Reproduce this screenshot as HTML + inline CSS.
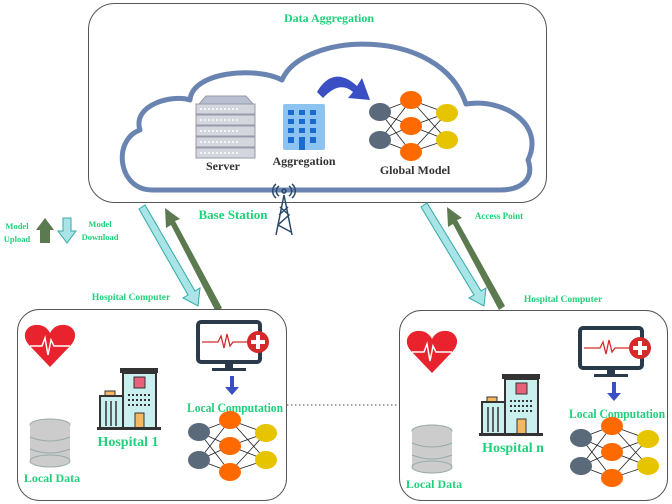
<!DOCTYPE html>
<html><head><meta charset="utf-8"><style>
html,body{margin:0;padding:0;background:#fff;}
svg{display:block;}
text{font-family:"Liberation Serif",serif;font-weight:bold;}
.g{fill:#1fd17a;}
.k{fill:#333;}
</style></head><body>
<svg width="672" height="504" viewBox="0 0 672 504" xmlns="http://www.w3.org/2000/svg">
<defs>
<g id="net">
 <g stroke="#222" stroke-width="0.8">
  <line x1="0" y1="0" x2="31" y2="-12"/><line x1="0" y1="0" x2="31" y2="14"/><line x1="0" y1="0" x2="31" y2="40"/>
  <line x1="0" y1="28" x2="31" y2="-12"/><line x1="0" y1="28" x2="31" y2="14"/><line x1="0" y1="28" x2="31" y2="40"/>
  <line x1="31" y1="-12" x2="67" y2="1"/><line x1="31" y1="-12" x2="67" y2="28"/>
  <line x1="31" y1="14" x2="67" y2="1"/><line x1="31" y1="14" x2="67" y2="28"/>
  <line x1="31" y1="40" x2="67" y2="1"/><line x1="31" y1="40" x2="67" y2="28"/>
 </g>
 <ellipse cx="0" cy="0" rx="11" ry="9" fill="#5a6a7a"/><ellipse cx="0" cy="28" rx="11" ry="9" fill="#5a6a7a"/>
 <ellipse cx="31" cy="-12" rx="11" ry="9" fill="#ff6a00"/><ellipse cx="31" cy="14" rx="11" ry="9" fill="#ff6a00"/><ellipse cx="31" cy="40" rx="11" ry="9" fill="#ff6a00"/>
 <ellipse cx="67" cy="1" rx="11" ry="9" fill="#e6c400"/><ellipse cx="67" cy="28" rx="11" ry="9" fill="#e6c400"/>
</g>
<g id="hosp">
 <path d="M50,367 L29,345 C20,335 27,324 38,325 C44,325 48,329 50,333 C52,329 56,325 62,325 C73,324 80,335 71,345 Z" fill="#e8232e"/>
 <polyline points="30,346 42,346 45,338 48,355 51,340 54,346 70,346" fill="none" stroke="#fff" stroke-width="1.5"/>
 <ellipse cx="50" cy="425" rx="20" ry="6" fill="#ccc" stroke="#9aa" />
 <rect x="30" y="425" width="40" height="36" fill="#ccc"/>
 <ellipse cx="50" cy="461" rx="20" ry="6" fill="#ccc" stroke="#9aa"/>
 <path d="M30,437 Q50,445 70,437 M30,449 Q50,457 70,449" fill="none" stroke="#9aa"/>
 <text x="52" y="482" class="g" font-size="12" text-anchor="middle">Local Data</text>
 <rect x="120" y="368" width="38" height="5" fill="#333"/>
 <rect x="123" y="373" width="33" height="55" fill="#c9f0ef" stroke="#333" stroke-width="2"/>
 <rect x="134" y="377" width="11" height="11" fill="#e8607a" stroke="#333"/>
 <rect x="105" y="391" width="10" height="5" fill="#f4b860" stroke="#333"/>
 <rect x="100" y="396" width="23" height="32" fill="#c9f0ef" stroke="#333" stroke-width="2"/>
 <path d="M106,401 V426 M111,401 V426 M116,401 V426" stroke="#333" stroke-width="1.5"/>
 <rect x="135" y="413" width="9" height="15" fill="#f4b860" stroke="#333"/>
 <path d="M128,395 H152 M128,400 H152 M128,405 H152" stroke="#333" stroke-width="2" stroke-dasharray="2 2"/>
 <rect x="97" y="427" width="64" height="3" fill="#333"/>
 <text x="128" y="446" class="g" font-size="14" text-anchor="middle">Hospital 1</text>
 <rect x="198" y="322" width="62" height="40" rx="3" fill="#fff" stroke="#2b3a4a" stroke-width="4"/>
 <rect x="225" y="362" width="8" height="6" fill="#2b3a4a"/><rect x="212" y="368" width="34" height="3" fill="#2b3a4a"/>
 <polyline points="202,342 218,342 221,336 224,348 227,334 230,346 233,342 250,342" fill="none" stroke="#d42a2a" stroke-width="1.3"/>
 <circle cx="258" cy="342" r="11" fill="#d42a2a"/><path d="M258,335 V349 M251,342 H265" stroke="#fff" stroke-width="4"/>
 <path d="M230,376 V387 H225 L232,395 L239,387 H234 V376 Z" fill="#3b4fc4"/>
 <text x="235" y="412" class="g" font-size="12.5" text-anchor="middle" textLength="96" lengthAdjust="spacingAndGlyphs">Local Computation</text>
 <use href="#net" x="199" y="432"/>
</g>
</defs>

<rect x="88.5" y="3.5" width="458" height="199" rx="26" fill="#fff" stroke="#555" stroke-width="1"/>
<text x="329" y="22" class="g" font-size="12" text-anchor="middle">Data Aggregation</text>
<path d="M152,190 C118,190 112,140 140,130 C132,105 172,94 190,100 C192,72 255,66 282,80 C302,32 440,25 466,104 C505,98 545,125 528,160 C535,180 520,190 500,190 Z" fill="#fff" stroke="#6a84b2" stroke-width="5" stroke-linejoin="round"/>
<polygon points="199,104 206,96 246,96 253,104" fill="#b8bfd0" stroke="#99a"/>
<g fill="#d4d6de" stroke="#99a">
<rect x="196" y="104" width="59" height="10"/><rect x="196" y="115" width="59" height="10"/><rect x="196" y="126" width="59" height="10"/><rect x="196" y="137" width="59" height="10"/><rect x="196" y="148" width="59" height="10"/>
</g>
<g stroke="#fff" stroke-width="1.5" stroke-dasharray="2 2"><path d="M200,109 H240 M200,120 H240 M200,131 H240 M200,142 H240 M200,153 H240"/></g>
<text x="223" y="170" class="k" font-size="12" text-anchor="middle">Server</text>
<rect x="283" y="104" width="42" height="46" rx="2" fill="#8cc3f0"/>
<g fill="#1a6bcf"><rect x="288" y="110" width="6" height="5"/><rect x="299" y="110" width="6" height="5"/><rect x="310" y="110" width="6" height="5"/>
<rect x="288" y="119" width="6" height="5"/><rect x="299" y="119" width="6" height="5"/><rect x="310" y="119" width="6" height="5"/>
<rect x="288" y="128" width="6" height="5"/><rect x="299" y="128" width="6" height="5"/><rect x="310" y="128" width="6" height="5"/>
<rect x="288" y="137" width="6" height="6"/><rect x="299" y="137" width="6" height="13"/><rect x="310" y="137" width="6" height="6"/></g>
<text x="304" y="165" class="k" font-size="12" text-anchor="middle">Aggregation</text>
<path d="M317,92 C330,70 345,75 357,86 L362,78 L370,100 L348,98 L353,92 C344,84 334,86 323,98 Z" fill="#3b4fc4"/>
<use href="#net" x="380" y="112"/>
<text x="415" y="174" class="k" font-size="12" text-anchor="middle">Global Model</text>
<g stroke="#2b4a6a" stroke-width="1.5" fill="none">
<path d="M284,195 L276,235 M284,195 L292,235 M280,207 L289,215 L278,225 L291,232 M288,207 L279,215"/>
<path d="M279,186 a6,6 0 0 0 0,10 M289,186 a6,6 0 0 1 0,10 M276,184 a9,9 0 0 0 0,14 M292,184 a9,9 0 0 1 0,14"/>
<circle cx="284" cy="191" r="2"/>
</g>
<text x="233" y="219" class="g" font-size="13" text-anchor="middle">Base Station</text>
<text x="499" y="219" class="g" font-size="9" text-anchor="middle">Access Point</text>

<text x="17" y="229" class="g" font-size="8.5" text-anchor="middle">Model</text>
<text x="17" y="242" class="g" font-size="8.5" text-anchor="middle">Upload</text>
<path d="M40,243 V230 H36 L45,218 L54,230 H50 V243 Z" fill="#5b7a4f"/>
<path d="M63,218 V231 H58 L67,243 L76,231 H71 V218 Z" fill="#a9e4e6" stroke="#3aa" stroke-width="1"/>
<text x="100" y="227" class="g" font-size="8.5" text-anchor="middle">Model</text>
<text x="100" y="240" class="g" font-size="8.5" text-anchor="middle">Download</text>

<polygon points="139,209 145,205 195,291 200,288 198,306 183,298 188,295" fill="#a9e4e6" stroke="#3aa" stroke-width="1"/>
<polygon points="222,308 216,312 171,225 166,228 165,208 180,219 175,221" fill="#5b7a4f"/>
<polygon points="421,207 427,203 481,291 486,288 484,306 469,298 474,295" fill="#a9e4e6" stroke="#3aa" stroke-width="1"/>
<polygon points="505,306 499,310 453,224 448,227 447,207 462,218 457,220" fill="#5b7a4f"/>
<text x="131" y="300" class="g" font-size="9.5" text-anchor="middle">Hospital Computer</text>
<text x="563" y="302" class="g" font-size="9.5" text-anchor="middle">Hospital Computer</text>

<rect x="17.5" y="309.5" width="269" height="191" rx="22" fill="#fff" stroke="#555"/>
<rect x="399.5" y="310.5" width="268" height="190" rx="22" fill="#fff" stroke="#555"/>
<line x1="287" y1="405" x2="399" y2="405" stroke="#444" stroke-dasharray="1.5 2.5"/>
<use href="#hosp"/>
<g transform="translate(382,6)"><use href="#hosp"/></g>
<rect x="480" y="440" width="70" height="16" fill="#fff"/>
<text x="513" y="452" class="g" font-size="14" text-anchor="middle">Hospital n</text>
</svg>
</body></html>
